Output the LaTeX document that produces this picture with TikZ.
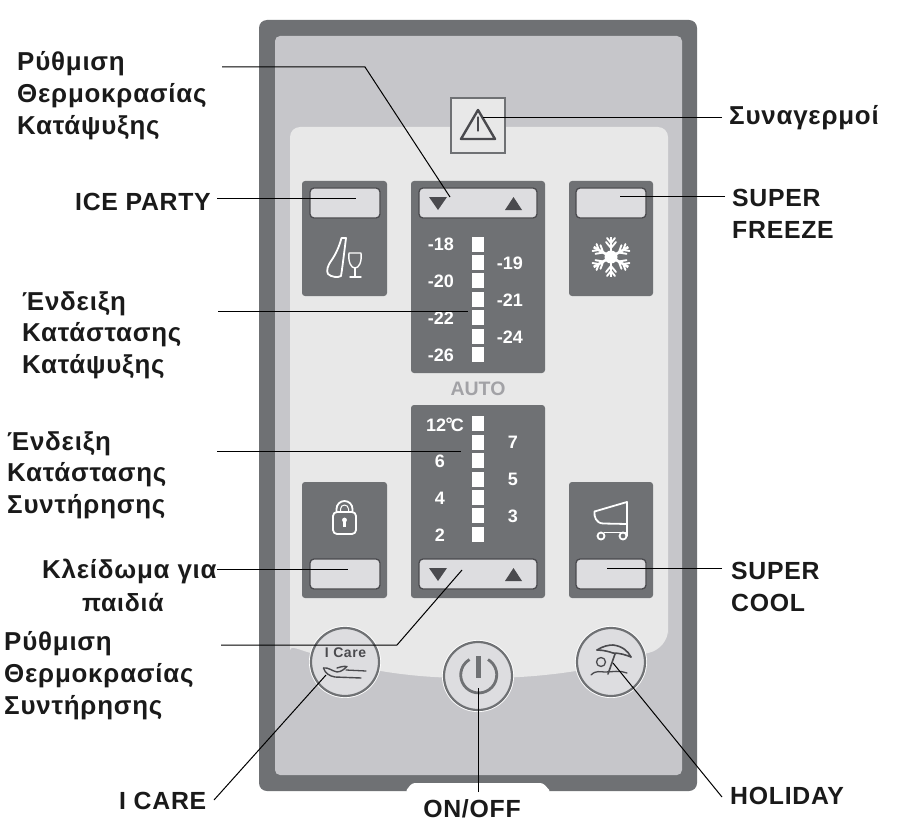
\documentclass[tikz,border=0pt]{standalone}
\usepackage{fontspec}
\setmainfont{Liberation Sans}
\newfontfamily\lblfont[LetterSpace=3]{Liberation Sans}
\newfontfamily\tagfont[LetterSpace=4]{Liberation Sans}
\definecolor{casing}{HTML}{6F7174}
\definecolor{facegray}{HTML}{C6C6CA}
\definecolor{zonegray}{HTML}{E8E8E8}
\definecolor{keygray}{HTML}{DDDDE0}
\definecolor{darkedge}{HTML}{4A4A4E}
\definecolor{autogray}{HTML}{A2A2A6}
\definecolor{labelblack}{HTML}{1A1A1A}
\tikzset{
  x=1pt,y=-1pt,
  panel/.style={fill=casing,rounded corners=3},
  keypad/.style={fill=keygray,draw=darkedge,line width=1.3,rounded corners=4},
  led/.style={fill=white},
  tri/.style={fill=darkedge},
  scaletxt/.style={text=white,font=\bfseries\fontsize{18}{20}\selectfont,inner sep=0},
  callout/.style={text=labelblack,font=\lblfont\bfseries\fontsize{24.8}{30}\selectfont,inner sep=0},
  calloutgr/.style={text=labelblack,font=\lblfont\bfseries\fontsize{25.9}{30}\selectfont,inner sep=0},
  lead/.style={draw=black,line width=1},
  roundkey/.style={circle,minimum size=68,inner sep=0,fill=keygray,draw=casing,line width=2.2},
  iconw/.style={draw=white,line width=1.8,line join=round,line cap=round},
  icond/.style={draw=darkedge,line width=1.6,line join=round,line cap=round},
}
\newcommand{\ledstack}[1]{%
  \foreach \ly in {#1} {\fill[led] (472,\ly) rectangle ++(12,14.5);}}
\begin{document}
\begin{tikzpicture}
\useasboundingbox (0,0) rectangle (916,840);
\fill[white] (0,0) rectangle (916,840);

% casing, face plate, light zone
\fill[casing,rounded corners=8] (259,20) rectangle (697,791);
\fill[white,rounded corners=3] (405,792) -- (412,783) -- (543,783) -- (551,792) -- cycle;
\fill[facegray,rounded corners=5] (275,36) rectangle (682,775);
\fill[zonegray,rounded corners=10] (290,640) -- (290,127) -- (668,127) -- (668,640)
  .. controls (668,640) and (660,650) .. (640,655)
  .. controls (590,672) and (530,678) .. (478,678)
  .. controls (420,678) and (370,672) .. (318,655)
  .. controls (300,650) and (290,645) .. (290,640) -- cycle;

% alarm indicator
\node[draw=casing,line width=2.2,fill=zonegray,minimum width=54,minimum height=55,inner sep=0] (alarm) at (478,125.5) {};
\draw[icond,line width=2.4] (478,110) -- (495,139) -- (461,139) -- cycle;
\draw[icond,line width=1.2] (478,117) -- (478,131);
\coordinate (alarmEnd) at (483,118);

% side panels
\fill[panel] (302,181) rectangle (387,296);
\fill[panel] (569,181) rectangle (653,296);
\fill[panel] (302,482) rectangle (387,598);
\fill[panel] (569,482) rectangle (653,598);
% central panels
\fill[panel] (411,181) rectangle (545,373);
\fill[panel] (411,405) rectangle (545,598);

% push keys
\draw[keypad] (310,188) rectangle (380,218);
\draw[keypad] (576,188) rectangle (646,218);
\draw[keypad] (419,188) rectangle (537,218);
\draw[keypad] (310,559) rectangle (380,589);
\draw[keypad] (576,559) rectangle (646,589);
\draw[keypad] (419,559) rectangle (537,589);
\coordinate (iceEnd) at (356,198);
\coordinate (freezeEnd) at (620,196);
\coordinate (lockEnd) at (348,569);
\coordinate (coolEnd) at (607,568);
\coordinate (freezerSetEnd) at (450,197);
\coordinate (fridgeSetEnd) at (462,570);
\coordinate (freezerScaleEnd) at (468,311);
\coordinate (fridgeScaleEnd) at (461,451);

% up and down arrows
\fill[tri] (429,197) -- (447,197) -- (438,210) -- cycle;
\fill[tri] (505,210) -- (522,210) -- (513.5,197) -- cycle;
\fill[tri] (429,568) -- (447,568) -- (438,581) -- cycle;
\fill[tri] (505,581) -- (522,581) -- (513.5,568) -- cycle;

% temperature scales
\ledstack{237,255,273,292,310,329,347}
\ledstack{416,435,453,472,490,508,527}
\node[scaletxt] (f18) at (441,244.5) {-18};
\node[scaletxt] (f20) at (441,281.5) {-20};
\node[scaletxt] (f22) at (441,318.5) {-22};
\node[scaletxt] (f26) at (441,355.5) {-26};
\node[scaletxt] (f19) at (510,263.5) {-19};
\node[scaletxt] (f21) at (510,300.5) {-21};
\node[scaletxt] (f24) at (510,337.5) {-24};
\node[text=autogray,font=\bfseries\fontsize{19.5}{22}\selectfont,inner sep=0] (auto) at (478,389) {AUTO};
\node[scaletxt] (c12) at (445,424.5) {12\kern-0.5pt\raisebox{0.1ex}{°}\kern-2pt C};
\node[scaletxt] (c6) at (440,461.5) {6};
\node[scaletxt] (c4) at (440,498.5) {4};
\node[scaletxt] (c2) at (440,535.5) {2};
\node[scaletxt] (c7) at (513,442.5) {7};
\node[scaletxt] (c5) at (513,479.5) {5};
\node[scaletxt] (c3) at (513,516.5) {3};

% bottle and glass
\draw[iconw] (341.5,238) -- (346,238) -- (344,254) .. controls (343,262) and (342,270) .. (341,276)
  .. controls (338,278) and (331,277) .. (328,274)
  .. controls (326,271) and (328,265) .. (331,261)
  .. controls (336,254) and (339,247) .. (341.5,238) -- cycle;
\draw[iconw,line width=1.4] (349,253) -- (361,253) .. controls (362,262) and (359,268) .. (355,268)
  .. controls (351,268) and (348,262) .. (349,253) -- cycle;
\draw[iconw,line width=1.4] (355,268) -- (355,277) (350,277) -- (361,277);

% snowflake
\begin{scope}[shift={(611,257)}]
  \foreach \a in {30,90,150,210,270,330} {
    \begin{scope}[rotate=\a]
      \draw[iconw,line width=2.6,line cap=butt] (0,0) -- (20,0);
      \draw[iconw,line width=1.9] (9,0) -- (15,-5) (9,0) -- (15,5) (14,0) -- (19,-4) (14,0) -- (19,4);
    \end{scope}
  }
  \fill[white] (0,0) circle (6.5);
\end{scope}

% padlock
\draw[iconw,rounded corners=4] (333,512) rectangle (356,534);
\draw[iconw] (336.5,512) -- (336.5,509) arc[start angle=180,end angle=360,radius=8] -- (352.5,512);
\draw[iconw,line width=1] (340.5,512) -- (340.5,509) arc[start angle=180,end angle=360,radius=4] -- (348.5,512);
\fill[white] (344.5,520) circle (2.4);
\fill[white] (343.2,520) rectangle (345.8,526.5);

% trolley
\draw[iconw] (627,502) -- (594.5,511.5) .. controls (594,517) and (596,523) .. (603,523.5) -- (627,524);
\draw[iconw] (627,502) -- (627,536);
\draw[iconw] (604.5,532.5) -- (627,532.5);
\draw[iconw] (601,536) circle (3.5);
\draw[iconw] (623,536) circle (3.5);

% round keys
\draw[white,line width=1.2] (345,662) circle (35.4);
\draw[white,line width=1.2] (478,676) circle (35.4);
\draw[white,line width=1.2] (611,662) circle (35.4);
\node[roundkey] (care) at (345,662) {};
\node[roundkey] (power) at (478,676) {};
\node[roundkey] (holiday) at (611,662) {};

% caring hand
\node[text=darkedge,font=\tagfont\bfseries\fontsize{14}{15}\selectfont,inner sep=0] (caretxt) at (345.5,653) {I Care};
\draw[icond,line width=1.4] (323.5,668) .. controls (325,673) and (329,676) .. (335,677) -- (361,678);
\draw[icond,line width=1.4] (323.5,668) .. controls (328,667) and (332,671) .. (337,672)
  .. controls (342,672) and (345,668) .. (347,666.5) .. controls (343,666) and (340,667) .. (337,668);
\draw[icond,line width=1.3] (346,670) -- (366,671);

% power symbol
\draw[draw=casing,line width=2.8] (488,659.5) arc[start angle=-59,end angle=239,radius=18];
\fill[casing] (475.5,656) rectangle (480.5,678);

% beach umbrella
\draw[icond] (597,650) .. controls (603,646) and (609,645) .. (613,645)
  .. controls (622,646) and (628,651) .. (631,657);
\draw[icond] (597,650) .. controls (604,650) and (610,652) .. (613,653) .. controls (620,653) and (626,655) .. (631,657);
\draw[icond] (615,654) -- (608,674);
\draw[icond,line width=1.3] (601,662) circle (4.5);
\draw[icond,line width=1.3] (591,675) .. controls (596,670) and (600,672) .. (605,672)
  .. controls (612,672) and (620,670) .. (627,673);

% callout labels
\node[calloutgr,anchor=west] (a1) at (17,63.5) {Ρύθμιση};
\node[calloutgr,anchor=west] (a2) at (17,95.5) {Θερμοκρασίας};
\node[calloutgr,anchor=west] (a3) at (17,127.5) {Κατάψυξης};
\node[callout,anchor=east] (ice) at (211,201.5) {ICE PARTY};
\node[calloutgr,anchor=west] (b1) at (22,303.5) {Ένδειξη};
\node[calloutgr,anchor=west] (b2) at (22,334.5) {Κατάστασης};
\node[calloutgr,anchor=west] (b3) at (22,366.5) {Κατάψυξης};
\node[calloutgr,anchor=west] (c1) at (7,443.5) {Ένδειξη};
\node[calloutgr,anchor=west] (c2l) at (7,474.5) {Κατάστασης};
\node[calloutgr,anchor=west] (c3l) at (7,506.5) {Συντήρησης};
\node[calloutgr,anchor=west] (d1) at (42,571) {Κλείδωμα για};
\node[callout,anchor=west] (d2) at (82,602) {παιδιά};
\node[calloutgr,anchor=west] (e1) at (4,643.5) {Ρύθμιση};
\node[calloutgr,anchor=west] (e2) at (4,675.5) {Θερμοκρασίας};
\node[calloutgr,anchor=west] (e3) at (4,707.5) {Συντήρησης};
\node[callout,anchor=west] (icare) at (119,801) {I CARE};
\node[callout] (onoff) at (472,808.5) {ON/OFF};
\node[callout,anchor=west] (hol) at (730,796) {HOLIDAY};
\node[callout,anchor=west] (cool1) at (731,571) {SUPER};
\node[callout,anchor=west] (cool2) at (731,603) {COOL};
\node[callout,anchor=west] (frz1) at (732,198) {SUPER};
\node[callout,anchor=west] (frz2) at (732,230) {FREEZE};
\node[calloutgr,anchor=west] (alm) at (729,118) {Συναγερμοί};

% free ends of the leader lines, beside their labels
\coordinate (a1L) at (222,67);
\coordinate (iceL) at (217,198);
\coordinate (b1L) at (218,311);
\coordinate (c1L) at (217,451);
\coordinate (d1L) at (217,569);
\coordinate (e1L) at (221,645);
\coordinate (icareL) at (214,800);
\coordinate (onoffL) at (478,792);
\coordinate (holL) at (722,797);
\coordinate (coolL) at (722,568);
\coordinate (frzL) at (725,196);
\coordinate (almL) at (722,118);
\coordinate (careEnd) at (326,675);
\coordinate (powerEnd) at (478,688);
\coordinate (holEnd) at (613,663);

% leader lines
\draw[lead] (a1L) -- (365,67) -- (freezerSetEnd);
\draw[lead] (iceL) -- (iceEnd);
\draw[lead] (b1L) -- (freezerScaleEnd);
\draw[lead] (c1L) -- (fridgeScaleEnd);
\draw[lead] (d1L) -- (lockEnd);
\draw[lead] (e1L) -- (397,645) -- (fridgeSetEnd);
\draw[lead] (icareL) -- (careEnd);
\draw[lead] (onoffL) -- (powerEnd);
\draw[lead] (holL) -- (holEnd);
\draw[lead] (coolL) -- (coolEnd);
\draw[lead] (frzL) -- (freezeEnd);
\draw[lead] (almL) -- (alarmEnd);
\end{tikzpicture}
\end{document}
